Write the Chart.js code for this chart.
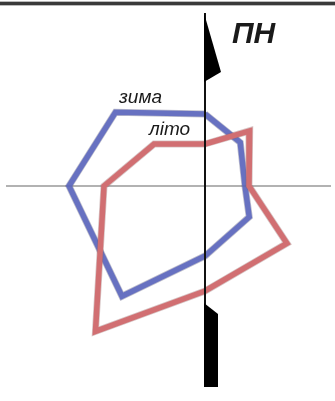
<!DOCTYPE html>
<html>
<head>
<meta charset="utf-8">
<script src="https://cdn.jsdelivr.net/npm/chart.js@4/dist/chart.umd.min.js"></script>
<style>
  html, body { margin: 0; padding: 0; background: #fff; }
  #wrap { position: relative; width: 335px; height: 401px; }
</style>
</head>
<body>
<div id="wrap"><canvas id="windRose" width="335" height="401"></canvas></div>
<script>
// wind directions (degrees clockwise from north, as drawn)
const directions = ['ПН', 'ПнСх', 'Сх', 'ПдСх', 'Пд', 'ПдЗх', 'Зх', 'ПнЗх']
const angles = [0, 39, 90, 125, 180, 217, 270, 309.5]

// rose values per direction
const winterValues = [72, 56, 40, 54, 70, 138, 136, 116]
const summerValues = [42, 71, 44, 100, 105, 182, 101, 66]

const seasonLabels = ['зима', 'літо']

const toPoints = values => {
  const pts = values.map((v, i) => {
    const a = angles[i] * Math.PI / 180
    return { x: v * Math.sin(a), y: v * Math.cos(a) }
  })
  pts.push(pts[0])
  return pts
}

const polygon = (label, values, color, width) => ({
  label: label,
  data: toPoints(values),
  showLine: true,
  fill: false,
  borderColor: color,
  borderWidth: width,
  borderJoinStyle: 'miter',
  pointRadius: 0,
  tension: 0
})

const roseDecor = {
  id: 'roseDecor',
  beforeDatasetsDraw(chart) {
    const { ctx, scales: { x, y } } = chart
    ctx.save()
    // frame line at the top
    ctx.fillStyle = '#bbb'
    ctx.fillRect(0, 1, chart.width, 5)
    ctx.fillStyle = '#3a3a3a'
    ctx.fillRect(0, 2, chart.width, 3)
    // east-west line
    ctx.strokeStyle = '#666'
    ctx.lineWidth = 1.2
    ctx.beginPath()
    ctx.moveTo(x.getPixelForValue(-199), y.getPixelForValue(0))
    ctx.lineTo(x.getPixelForValue(126), y.getPixelForValue(0))
    ctx.stroke()
    ctx.restore()
  },
  afterDatasetsDraw(chart) {
    const { ctx, scales: { x, y } } = chart
    const cx = x.getPixelForValue(0)
    ctx.save()
    // north-south line
    ctx.strokeStyle = '#111'
    ctx.lineWidth = 2
    ctx.beginPath()
    ctx.moveTo(cx, y.getPixelForValue(173))
    ctx.lineTo(cx, y.getPixelForValue(-201))
    ctx.stroke()
    // north flag
    ctx.fillStyle = '#000'
    ctx.beginPath()
    ctx.moveTo(cx - 1, y.getPixelForValue(173))
    ctx.lineTo(x.getPixelForValue(16), y.getPixelForValue(114))
    ctx.lineTo(cx - 1, y.getPixelForValue(104))
    ctx.closePath()
    ctx.fill()
    // south tail
    ctx.beginPath()
    ctx.moveTo(cx - 1, y.getPixelForValue(-117))
    ctx.lineTo(x.getPixelForValue(13), y.getPixelForValue(-128))
    ctx.lineTo(x.getPixelForValue(13), y.getPixelForValue(-201))
    ctx.lineTo(cx - 1, y.getPixelForValue(-201))
    ctx.closePath()
    ctx.fill()
    // labels
    ctx.fillStyle = '#1a1a1a'
    ctx.textBaseline = 'alphabetic'
    ctx.font = 'italic bold 30px "Liberation Sans", Arial, sans-serif'
    ctx.fillText(directions[0], x.getPixelForValue(27), y.getPixelForValue(143))
    ctx.font = 'italic 19px "Liberation Sans", Arial, sans-serif'
    ctx.fillText(seasonLabels[0], x.getPixelForValue(-86), y.getPixelForValue(83))
    ctx.fillText(seasonLabels[1], x.getPixelForValue(-56), y.getPixelForValue(51))
    ctx.restore()
  }
}

new Chart(document.getElementById('windRose'), {
  type: 'scatter',
  data: {
    datasets: [
      polygon(seasonLabels[1] + ' контур', summerValues, 'rgba(140,90,90,0.35)', 7),
      polygon(seasonLabels[1], summerValues, 'rgb(246,124,128)', 5.5),
      polygon(seasonLabels[0] + ' контур', winterValues, 'rgba(70,70,110,0.35)', 7),
      polygon(seasonLabels[0], winterValues, 'rgba(104,122,236,0.88)', 5.5)
    ]
  },
  options: {
    responsive: false,
    animation: false,
    layout: { padding: 0 },
    plugins: { legend: { display: false }, tooltip: { enabled: false } },
    scales: {
      x: { type: 'linear', min: -205, max: 130, display: false },
      y: { type: 'linear', min: -215, max: 186, display: false }
    }
  },
  plugins: [roseDecor]
})
</script>
</body>
</html>
